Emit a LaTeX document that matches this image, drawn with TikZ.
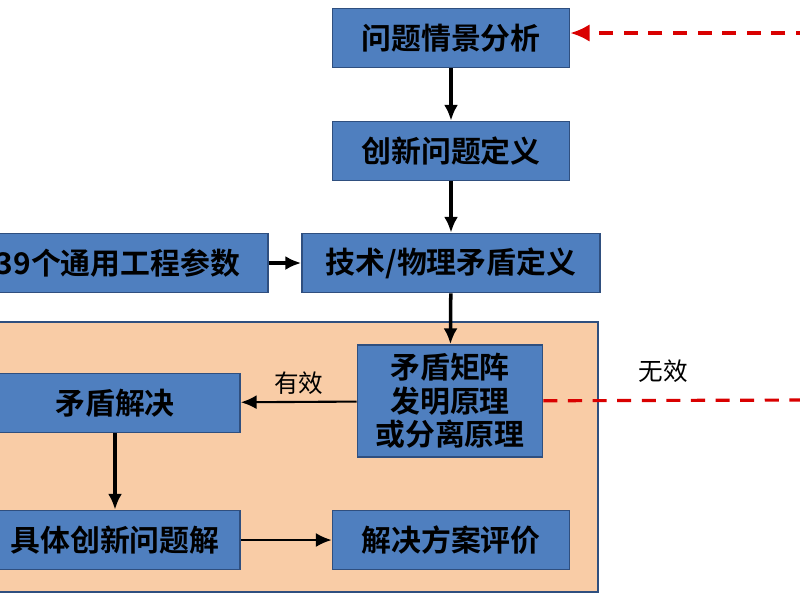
\documentclass[tikz,border=0pt]{standalone}
\usepackage{fontspec}
\setmainfont{Noto Sans CJK SC}[BoldFont={Noto Sans CJK SC Bold}]
\usetikzlibrary{arrows.meta}
\definecolor{boxblue}{HTML}{4F7FBF}
\definecolor{boxline}{HTML}{2F4F7F}
\definecolor{zone}{HTML}{F9CCA6}
\tikzset{
    stage/.style={draw=boxline, line width=1pt, fill=boxblue, minimum height=1.18cm,
        font=\fontsize{17}{21}\selectfont\bfseries, inner sep=0pt, align=center},
    flow/.style={-{Latex[length=9pt,width=8pt]}, line width=2pt},
    back/.style={red!85!black, dashed, dash pattern=on 8pt off 6pt, line width=1.8pt}
}
\begin{document}
\begin{tikzpicture}[x=0.02cm, y=-0.02cm]
    \useasboundingbox (0,0) rectangle (800,600);
    \fill[white] (0,0) rectangle (800,600);

    \draw[draw=boxline, fill=zone, line width=0.8pt] (-10,322) rectangle (598,592);

    \node[stage, minimum width=4.74cm] (scene) at (451,38) {问题情景分析};
    \node[stage, minimum width=4.74cm] (define) at (451,151) {创新问题定义};
    \node[stage, minimum width=5.96cm] (contra) at (451,263) {技术/物理矛盾定义};
    \node[stage, minimum width=6cm] (param) at (118,263) {39个通用工程参数};
    \node[stage, minimum width=3.7cm, minimum height=2.24cm] (matrix) at (450,401)
        {矛盾矩阵\\[-2pt]发明原理\\[-2pt]或分离原理};
    \node[stage, minimum width=5cm] (solve) at (115,403) {矛盾解决};
    \node[stage, minimum width=5cm] (answer) at (115,540) {具体创新问题解};
    \node[stage, minimum width=4.74cm] (judge) at (451,540) {解决方案评价};

    \coordinate (outA) at (810,400);
    \coordinate (outB) at (810,33);

    \draw[flow] (scene) -- (define);
    \draw[flow] (define) -- (contra);
    \draw[flow] (param) -- (contra);
    \draw[flow] (contra) -- (matrix);
    \draw[flow, line width=1.2pt] (matrix) -- node[above, font=\fontsize{14}{16}\selectfont] {有效} (solve);
    \draw[flow] (solve) -- (answer);
    \draw[flow, line width=1.2pt] (answer) -- (judge);

    \draw[back] (matrix) -- node[above=6pt, pos=0.45, black, font=\fontsize{14}{16}\selectfont] {无效} (outA);
    \draw[back, -{Latex[length=11pt,width=10pt]}] (outB) -- (scene.east |- outB);
\end{tikzpicture}
\end{document}
